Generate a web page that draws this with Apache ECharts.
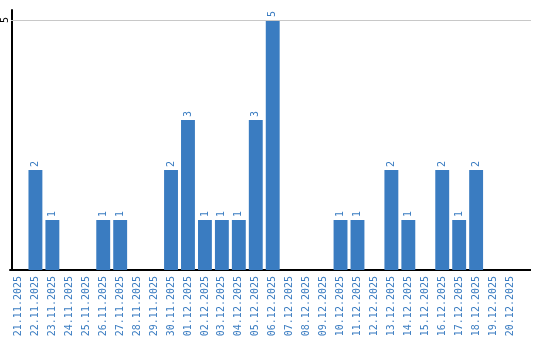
<!DOCTYPE html>
<html><head><meta charset="utf-8">
<script src="https://cdn.jsdelivr.net/npm/echarts@6/dist/echarts.min.js"></script>
<style>html,body{margin:0;padding:0;background:#fff}#c{width:540px;height:340px}</style>
</head><body><div id="c"></div>
<script>
var categories = ['21.11.2025','22.11.2025','23.11.2025','24.11.2025','25.11.2025','26.11.2025','27.11.2025','28.11.2025','29.11.2025','30.11.2025','01.12.2025','02.12.2025','03.12.2025','04.12.2025','05.12.2025','06.12.2025','07.12.2025','08.12.2025','09.12.2025','10.12.2025','11.12.2025','12.12.2025','13.12.2025','14.12.2025','15.12.2025','16.12.2025','17.12.2025','18.12.2025','19.12.2025','20.12.2025'];
var values = [0,2,1,0,0,1,1,0,0,2,3,1,1,1,3,5,0,0,0,1,1,0,2,1,0,2,1,2,0,0];
var yTicks = [5];
var chart = echarts.init(document.getElementById('c'), null, {renderer:'canvas'});
chart.setOption({
  animation:false,
  grid:{left:8.5,right:21.5,top:10,bottom:70,containLabel:false},
  xAxis:{type:'category',data:categories,
    axisLine:{lineStyle:{color:'#000',width:2}},
    axisTick:{show:false},
    axisLabel:{rotate:90,interval:0,color:'#3a7cc1',fontFamily:'DejaVu Sans Mono',fontSize:10,margin:6}},
  yAxis:{type:'value',min:0,max:5.2,interval:5,offset:-2,
    axisLine:{show:true,lineStyle:{color:'#000',width:2}},
    axisTick:{show:false},
    splitLine:{show:false},
    axisLabel:{rotate:90,color:'#000',fontFamily:'DejaVu Sans Mono',fontSize:10,margin:2,showMaxLabel:false,
      formatter:function(v){return yTicks.indexOf(v)>=0?String(v):'';}}},
  series:[{type:'bar',data:values.map(function(v){return v===0?null:v;}),barCategoryGap:'18%',
    itemStyle:{color:'#3a7cc1'},
    markLine:{silent:true,symbol:'none',label:{show:false},lineStyle:{color:'#c8c8c8',width:1,type:'solid'},
      data:yTicks.map(function(t){return [{x:11,yAxis:t},{x:531,yAxis:t}];})},
    label:{show:true,position:'top',rotate:90,align:'left',verticalAlign:'middle',distance:3,color:'#3a7cc1',fontFamily:'DejaVu Sans Mono',fontSize:10}}],
  graphic:[{type:'line',shape:{x1:517,y1:270,x2:531,y2:270},style:{stroke:'#000',lineWidth:2},z:10}]
});
</script></body></html>
